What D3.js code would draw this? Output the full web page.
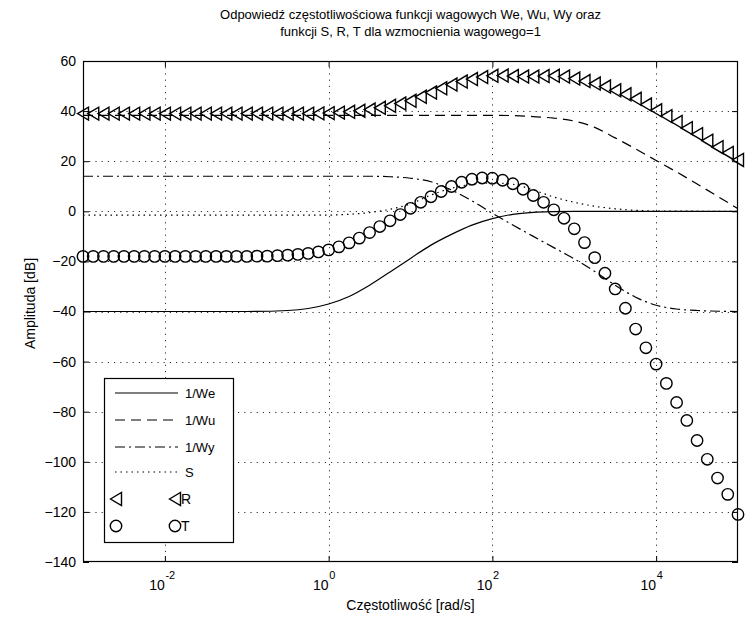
<!DOCTYPE html>
<html>
<head>
<meta charset="utf-8">
<script src="https://cdn.jsdelivr.net/npm/d3@7"></script>
<style>
  body { margin: 0; background: #fff; }
  svg text { font-family: "Liberation Sans", Arial, sans-serif; fill: #000; }
</style>
</head>
<body>
<div id="chart"></div>
<script>
// Frequency response of weights We, Wu, Wy and S, R, T

// ---- data (exponent of frequency in rad/s, amplitude in dB)
const titleLines = [
  "Odpowiedź częstotliwościowa funkcji wagowych We, Wu, Wy oraz",
  "funkcji S, R, T dla wzmocnienia wagowego=1"
];
const xLabel = "Częstotliwość [rad/s]";
const yLabel = "Amplituda [dB]";

const xTickValues = [1e-2, 1e0, 1e2, 1e4];
const xTickExponents = ["-2", "0", "2", "4"];
const yTickValues = [-140, -120, -100, -80, -60, -40, -20, 0, 20, 40, 60];

// 1/We (solid)
const weExp = [-3, -1, -0.5, -0.25, 0, 0.25, 0.5, 0.75, 1, 1.25, 1.5, 1.75, 2, 2.25, 2.5, 2.75, 3, 5];
const weDb  = [-40, -40, -39.6, -38.8, -37, -34, -29.5, -24.2, -18.8, -13.5, -9.2, -5.5, -2.9, -1.2, -0.4, -0.1, 0, 0];

// 1/Wu (dashed)
const wuExp = [-3, 2, 2.25, 2.5, 2.75, 3, 3.25, 3.5, 3.75, 4, 4.25, 4.5, 4.75, 5];
const wuDb  = [38.3, 38.3, 38.2, 37.8, 37.2, 36, 33.5, 29.3, 24.9, 20.3, 15.7, 10.9, 6, 1];

// 1/Wy (dash-dot)
const wyExp = [-3, 0.5, 0.75, 1, 1.25, 1.5, 1.75, 2, 2.25, 2.5, 2.75, 3, 3.25, 3.5, 3.75, 4, 4.25, 4.5, 5];
const wyDb  = [14, 14, 13.8, 13.2, 11.8, 8.5, 4.2, -0.8, -5.5, -10, -14.5, -19, -24, -29.5, -34.3, -37.5, -39, -39.6, -40];

// S (dotted)
const sExp = [-3, 0, 0.25, 0.5, 0.75, 1, 1.25, 1.5, 1.75, 2, 2.25, 2.5, 2.75, 3, 3.25, 3.5, 3.75, 4, 5];
const sDb  = [-1.5, -1.5, -1.2, -0.5, 0.8, 3, 6.5, 9.2, 10.8, 11.3, 10.8, 8.5, 5.7, 3.6, 2, 1, 0.4, 0.1, 0];

// R and T markers, sampled 8 points per decade from 1e-3 to 1e5
const markerExp = d3.range(65).map((i) => -3 + i / 8);
const rDb = [
  39, 39, 39, 39, 39, 39, 39, 39, 39, 39, 39, 39, 39, 39, 39, 39,
  39, 39, 39, 39, 39, 39, 39, 39.1, 39.2, 39.4, 39.7, 40.1, 40.6, 41.3, 42.1, 43,
  44.1, 45.7, 47.4, 49.1, 50.6, 51.8, 52.8, 53.6, 54.1, 54.2, 54, 53.8, 53.8, 54, 54.1, 53.8,
  53, 52, 51, 49.8, 48.3, 46.7, 44.9, 42.6, 40.3, 38, 35.7, 33.2, 30.8, 28.2, 25.6, 23.3,
  20.5
];
const tDb = [
  -18, -18, -18, -18, -18, -18, -18, -18, -18, -18, -18, -18, -18, -18, -18, -18,
  -18, -17.9, -17.9, -17.7, -17.5, -17.2, -16.8, -16.2, -15.4, -14.2, -12.6, -10.7, -8.5, -6.1, -3.8, -1.3,
  1.2, 3.6, 5.8, 7.9, 9.9, 11.6, 12.8, 13.3, 13.2, 12.4, 11, 8.8, 6.3, 3.6, 0.6, -2.8,
  -7, -12.5, -18.5, -24.7, -31, -38.7, -47, -54.5, -61, -68.7, -76.3, -83.5, -91.5, -99, -106.5, -113,
  -121
];

const legendLabels = ["1/We", "1/Wu", "1/Wy", "S", "R", "T"];

(function () {
  const W = 745, H = 620;
  const plot = { left: 83, right: 738, top: 61, bottom: 562 };

  const svg = d3.select("#chart").append("svg")
    .attr("width", W).attr("height", H)
    .style("display", "block");

  svg.append("rect").attr("width", W).attr("height", H).attr("fill", "#fff");

  // scales
  const x = d3.scaleLog().domain([1e-3, 1e5]).range([plot.left, plot.right]);
  const y = d3.scaleLinear().domain([-140, 60]).range([plot.bottom, plot.top]);

  // clip
  svg.append("defs").append("clipPath").attr("id", "clip")
    .append("rect")
    .attr("x", plot.left).attr("y", plot.top)
    .attr("width", plot.right - plot.left).attr("height", plot.bottom - plot.top);

  // grid
  const grid = svg.append("g").attr("stroke", "#333").attr("stroke-width", 1)
    .attr("stroke-dasharray", "1.2,5");
  grid.selectAll(".gx").data(xTickValues).join("line")
    .attr("x1", (d) => Math.round(x(d)) + 0.5).attr("x2", (d) => Math.round(x(d)) + 0.5)
    .attr("y1", plot.top).attr("y2", plot.bottom);
  grid.selectAll(".gy").data(yTickValues.slice(1, -1)).join("line")
    .attr("y1", (d) => Math.round(y(d)) + 0.5).attr("y2", (d) => Math.round(y(d)) + 0.5)
    .attr("x1", plot.left).attr("x2", plot.right);

  // axes, ticks inward on all four sides
  const axisStyle = (g) => {
    g.select(".domain").remove();
    g.selectAll("line").attr("stroke", "#000");
    g.selectAll("text").style("font-size", "14px")
      .style("font-family", "'Liberation Sans', Arial, sans-serif");
  };
  svg.append("g").attr("transform", `translate(0,${plot.bottom})`)
    .call(d3.axisBottom(x).tickValues(xTickValues).tickSize(-6).tickSizeOuter(0).tickFormat(""))
    .call(axisStyle);
  svg.append("g").attr("transform", `translate(0,${plot.top})`)
    .call(d3.axisTop(x).tickValues(xTickValues).tickSize(-6).tickSizeOuter(0).tickFormat(""))
    .call(axisStyle);
  svg.append("g").attr("transform", `translate(${plot.left},0)`)
    .call(d3.axisLeft(y).tickValues(yTickValues).tickSize(-6).tickSizeOuter(0).tickPadding(7))
    .call(axisStyle);
  svg.append("g").attr("transform", `translate(${plot.right},0)`)
    .call(d3.axisRight(y).tickValues(yTickValues).tickSize(-6).tickSizeOuter(0).tickFormat(""))
    .call(axisStyle);

  // x tick labels 10^n
  const xl = svg.append("g").style("font-size", "14px");
  xTickValues.forEach((v, i) => {
    xl.append("text").attr("x", x(v)).attr("y", 590)
      .attr("text-anchor", "end").text("10");
    xl.append("text").attr("x", x(v) + 0.5).attr("y", 579)
      .style("font-size", "11px").text(xTickExponents[i]);
  });

  // frame
  svg.append("rect")
    .attr("x", plot.left + 0.5).attr("y", plot.top + 0.5)
    .attr("width", plot.right - plot.left - 1).attr("height", plot.bottom - plot.top - 1)
    .attr("fill", "none").attr("stroke", "#000").attr("stroke-width", 1.2);

  // curves
  const line = d3.line()
    .x((d) => x(Math.pow(10, d[0])))
    .y((d) => y(d[1]))
    .curve(d3.curveMonotoneX);

  const series = [
    { e: weExp, v: weDb, dash: null },
    { e: wuExp, v: wuDb, dash: "10,6" },
    { e: wyExp, v: wyDb, dash: "10,4,2,4" },
    { e: sExp, v: sDb, dash: "1.5,4" }
  ];
  const curves = svg.append("g").attr("clip-path", "url(#clip)");
  series.forEach((s) => {
    curves.append("path")
      .datum(s.e.map((e, i) => [e, s.v[i]]))
      .attr("d", line)
      .attr("fill", "none")
      .attr("stroke", "#000")
      .attr("stroke-width", 1.2)
      .attr("stroke-dasharray", s.dash);
  });

  // markers
  const triW = 11, triH = 13, circR = 5.7;
  const triPath = `M${-triW / 2},0L${triW / 2},${-triH / 2}L${triW / 2},${triH / 2}Z`;

  const marks = svg.append("g");
  marks.selectAll(".tri").data(markerExp.map((e, i) => [e, rDb[i]])).join("path")
    .attr("transform", (d) => `translate(${x(Math.pow(10, d[0]))},${y(d[1])})`)
    .attr("d", triPath)
    .attr("fill", "none").attr("stroke", "#000").attr("stroke-width", 1.4);
  marks.selectAll(".circ").data(markerExp.map((e, i) => [e, tDb[i]])).join("circle")
    .attr("cx", (d) => x(Math.pow(10, d[0])))
    .attr("cy", (d) => y(d[1]))
    .attr("r", circR)
    .attr("fill", "none").attr("stroke", "#000").attr("stroke-width", 1.4);

  // legend
  const lg = svg.append("g");
  lg.append("rect").attr("x", 104.5).attr("y", 378.5).attr("width", 129).attr("height", 164)
    .attr("fill", "#fff").attr("stroke", "#000").attr("stroke-width", 1.2);
  const rowY = [393, 420, 447, 472, 499, 526];
  [null, "10,6", "10,4,2,4", "1.5,4"].forEach((dash, i) => {
    lg.append("line").attr("x1", 115).attr("x2", 178)
      .attr("y1", rowY[i]).attr("y2", rowY[i])
      .attr("stroke", "#000").attr("stroke-width", 1.2)
      .attr("stroke-dasharray", dash);
    lg.append("text").attr("x", 185).attr("y", rowY[i] + 5)
      .style("font-size", "13px").text(legendLabels[i]);
  });
  [116, 175].forEach((mx) => {
    lg.append("path").attr("d", triPath)
      .attr("transform", `translate(${mx},${rowY[4]})`)
      .attr("fill", "none").attr("stroke", "#000").attr("stroke-width", 1.4);
    lg.append("circle").attr("cx", mx).attr("cy", rowY[5]).attr("r", circR)
      .attr("fill", "none").attr("stroke", "#000").attr("stroke-width", 1.4);
  });
  lg.append("text").attr("x", 181).attr("y", rowY[4] + 5).style("font-size", "14px").text(legendLabels[4]);
  lg.append("text").attr("x", 181).attr("y", rowY[5] + 5).style("font-size", "14px").text(legendLabels[5]);

  // title and axis labels
  const cx = (plot.left + plot.right) / 2;
  svg.append("text").attr("x", cx).attr("y", 19).attr("text-anchor", "middle")
    .style("font-size", "13px").text(titleLines[0]);
  svg.append("text").attr("x", cx).attr("y", 36).attr("text-anchor", "middle")
    .style("font-size", "13px").text(titleLines[1]);
  svg.append("text").attr("x", cx).attr("y", 610).attr("text-anchor", "middle")
    .style("font-size", "14px").text(xLabel);
  svg.append("text").attr("transform", `translate(35,${(plot.top + plot.bottom) / 2 - 8}) rotate(-90)`)
    .attr("text-anchor", "middle").style("font-size", "14px").text(yLabel);
})();
</script>
</body>
</html>
